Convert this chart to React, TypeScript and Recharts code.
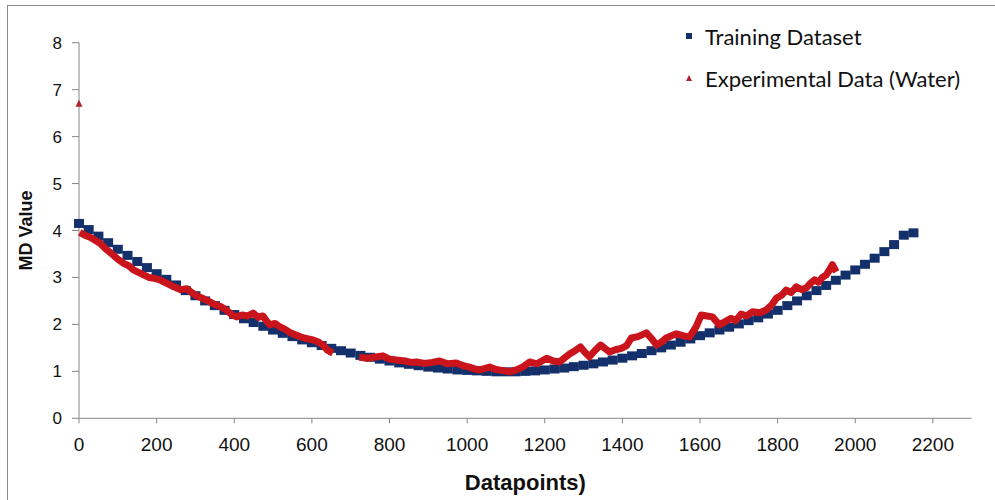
import { ScatterChart, Scatter, XAxis, YAxis } from "recharts";

// training curve, one square every 25 datapoints
const trainingPoints: [number, number][] = [
  [0, 4.15], [25, 4.02], [50, 3.88], [75, 3.74], [100, 3.6], [125, 3.47],
  [150, 3.34], [175, 3.21], [200, 3.08], [225, 2.96], [250, 2.84], [275, 2.72],
  [300, 2.61], [325, 2.5], [350, 2.4], [375, 2.3], [400, 2.21], [425, 2.12],
  [450, 2.04], [475, 1.96], [500, 1.88], [525, 1.81], [550, 1.74], [575, 1.67],
  [600, 1.61], [625, 1.55], [650, 1.49], [675, 1.44], [700, 1.39], [725, 1.34],
  [750, 1.3], [775, 1.26], [800, 1.22], [825, 1.18], [850, 1.15], [875, 1.12],
  [900, 1.09], [925, 1.07], [950, 1.05], [975, 1.03], [1000, 1.02], [1025, 1.01],
  [1050, 1.0], [1075, 0.99], [1100, 0.99], [1125, 0.99], [1150, 1.0], [1175, 1.01],
  [1200, 1.03], [1225, 1.05], [1250, 1.07], [1275, 1.1], [1300, 1.13], [1325, 1.16],
  [1350, 1.2], [1375, 1.24], [1400, 1.28], [1425, 1.33], [1450, 1.38], [1475, 1.44],
  [1500, 1.5], [1525, 1.56], [1550, 1.62], [1575, 1.69], [1600, 1.76], [1625, 1.82],
  [1650, 1.88], [1675, 1.94], [1700, 2.01], [1725, 2.08], [1750, 2.14], [1775, 2.22],
  [1800, 2.3], [1825, 2.4], [1850, 2.5], [1875, 2.61], [1900, 2.72], [1925, 2.83],
  [1950, 2.94], [1975, 3.05], [2000, 3.16], [2025, 3.28], [2050, 3.41], [2075, 3.55],
  [2100, 3.7], [2125, 3.9], [2150, 3.95],
];

// experimental (water), first run up to ~650
const waterPart1: [number, number][] = [
  [2, 3.96], [15, 3.9], [30, 3.85], [54, 3.73], [70, 3.6], [85, 3.5], [97, 3.41],
  [115, 3.3], [128, 3.25], [140, 3.16], [160, 3.08], [180, 3.0], [195, 2.98],
  [208, 2.95], [225, 2.88], [245, 2.8], [262, 2.74], [278, 2.76], [290, 2.68],
  [305, 2.6], [320, 2.55], [337, 2.48], [350, 2.42], [365, 2.38], [380, 2.3],
  [395, 2.2], [406, 2.16], [420, 2.2], [435, 2.18], [449, 2.24], [462, 2.15],
  [474, 2.18], [485, 2.05], [492, 1.99], [505, 2.02], [517, 1.95], [530, 1.9],
  [545, 1.82], [557, 1.78], [569, 1.74], [585, 1.7], [603, 1.67], [618, 1.62],
  [630, 1.55], [640, 1.45], [654, 1.39],
];

// experimental (water), second run from ~720
const waterPart2: [number, number][] = [
  [722, 1.3], [744, 1.28], [760, 1.3], [783, 1.33], [800, 1.26], [818, 1.24],
  [840, 1.22], [855, 1.19], [870, 1.2], [890, 1.17], [910, 1.19], [929, 1.22],
  [950, 1.16], [972, 1.18], [990, 1.12], [1006, 1.09], [1020, 1.05], [1032, 1.03],
  [1045, 1.06], [1058, 1.09], [1075, 1.04], [1090, 1.02], [1109, 0.99], [1127, 1.03],
  [1145, 1.1], [1161, 1.2], [1180, 1.16], [1205, 1.28], [1222, 1.22], [1238, 1.2],
  [1250, 1.28], [1264, 1.37], [1280, 1.45], [1292, 1.52], [1304, 1.4], [1315, 1.31],
  [1330, 1.45], [1344, 1.56], [1356, 1.48], [1367, 1.41], [1382, 1.46], [1397, 1.49],
  [1411, 1.55], [1423, 1.71], [1440, 1.74], [1462, 1.82], [1475, 1.7], [1488, 1.56],
  [1500, 1.62], [1513, 1.71], [1539, 1.8], [1556, 1.76], [1573, 1.73], [1590, 1.95],
  [1603, 2.2], [1618, 2.18], [1632, 2.16], [1650, 1.99], [1665, 2.06], [1680, 2.13],
  [1692, 2.08], [1706, 2.22], [1720, 2.18], [1735, 2.27], [1755, 2.25], [1771, 2.31],
  [1785, 2.42], [1797, 2.56], [1810, 2.62], [1822, 2.73], [1835, 2.68], [1848, 2.8],
  [1862, 2.74], [1874, 2.78], [1885, 2.88], [1895, 2.95], [1905, 2.9], [1915, 3.0],
  [1925, 3.05], [1935, 3.18], [1941, 3.27], [1951, 3.12],
];

// lone first reading
const waterOutlier: [number, number][] = [[0, 6.7]];

const xTicks = [0, 200, 400, 600, 800, 1000, 1200, 1400, 1600, 1800, 2000, 2200];
const yTicks = [0, 1, 2, 3, 4, 5, 6, 7, 8];

const NAVY = "#14306A";
const RED = "#C8141A";
const AXIS = "#868686";

const toRows = (pts: [number, number][]) => pts.map(([x, y]) => ({ x, y }));

const Square = (p: any) => (
  <rect x={p.cx - 5} y={p.cy - 4.5} width={10} height={9} fill={NAVY} />
);

const Triangle = (p: any) => (
  <polygon
    points={`${p.cx},${p.cy - 4} ${p.cx - 3.5},${p.cy + 3} ${p.cx + 3.5},${p.cy + 3}`}
    fill="#B0202C"
  />
);

const Nothing = () => <g />;

function LegendBox() {
  return (
    <div
      style={{
        position: "absolute",
        left: 684,
        top: 15,
        fontFamily: "Lato, 'Open Sans', sans-serif",
        fontSize: 22,
        color: "#111",
      }}
    >
      <div style={{ display: "flex", alignItems: "center", height: 42 }}>
        <svg width={21} height={10}>
          <rect x={2} y={2} width={6} height={6} fill={NAVY} />
        </svg>
        <span>Training Dataset</span>
      </div>
      <div style={{ display: "flex", alignItems: "center", height: 42 }}>
        <svg width={21} height={10}>
          <polygon points="5,2 2,8 8,8" fill="#B0202C" />
        </svg>
        <span>Experimental Data (Water)</span>
      </div>
    </div>
  );
}

export default function App() {
  return (
    <div
      style={{
        position: "absolute",
        left: 0,
        top: 0,
        width: 995,
        height: 500,
        background: "#fff",
        fontFamily: "'Liberation Sans', Arial, sans-serif",
      }}
    >
      <div
        style={{
          position: "absolute",
          left: 7,
          top: 5,
          right: 0,
          bottom: 0,
          borderTop: "1px solid #8a8a8a",
          borderLeft: "1px solid #8a8a8a",
        }}
      />
      <ScatterChart
        width={995}
        height={500}
        margin={{ top: 42.7, right: 23.3, bottom: 0, left: 0 }}
      >
        <XAxis
          type="number"
          dataKey="x"
          domain={[0, 2300]}
          ticks={xTicks}
          height={81.7}
          tickSize={5}
          tickMargin={14}
          axisLine={{ stroke: AXIS }}
          tickLine={{ stroke: AXIS }}
          tick={{ fill: "#111", fontSize: 19 }}
          label={{
            value: "Datapoints)",
            position: "insideBottom",
            offset: 10,
            style: { fontWeight: "bold", fontSize: 22, fill: "#111" },
          }}
        />
        <YAxis
          type="number"
          dataKey="y"
          domain={[0, 8]}
          ticks={yTicks}
          width={79}
          tickSize={7}
          tickMargin={10}
          axisLine={{ stroke: AXIS }}
          tickLine={{ stroke: AXIS }}
          tick={{ fill: "#111", fontSize: 17 }}
          label={{
            value: "MD Value",
            angle: -90,
            position: "center",
            dx: -13.5,
            style: { fontWeight: "bold", fontSize: 18, fill: "#111" },
          }}
        />
        <Scatter
          name="Training Dataset"
          data={toRows(trainingPoints)}
          shape={Square}
          isAnimationActive={false}
        />
        <Scatter
          name="Experimental Data (Water)"
          data={toRows(waterPart1)}
          line={{ stroke: RED, strokeWidth: 7, strokeLinejoin: "round" }}
          shape={Nothing}
          isAnimationActive={false}
        />
        <Scatter
          name="Experimental Data (Water) 2"
          data={toRows(waterPart2)}
          line={{ stroke: RED, strokeWidth: 7, strokeLinejoin: "round" }}
          shape={Nothing}
          isAnimationActive={false}
        />
        <Scatter
          name="Experimental Data (Water) outlier"
          data={toRows(waterOutlier)}
          shape={Triangle}
          isAnimationActive={false}
        />
      </ScatterChart>
      <LegendBox />
    </div>
  );
}
